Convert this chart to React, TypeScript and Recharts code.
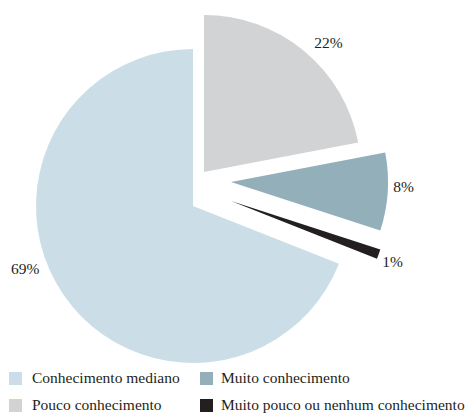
import React from "react";
import { PieChart, Pie, Cell, Sector, Legend } from "recharts";

// data, in drawing order (clockwise from 12 o'clock)
const categories = [
  "Pouco conhecimento",
  "Muito conhecimento",
  "Muito pouco ou nenhum conhecimento",
  "Conhecimento mediano",
];
const shares = [22, 8, 1, 69];

// legend order (two columns)
const legendRows = [
  ["Conhecimento mediano", "Muito conhecimento"],
  ["Pouco conhecimento", "Muito pouco ou nenhum conhecimento"],
];

const colors: Record<string, string> = {
  "Pouco conhecimento": "#d2d3d5",
  "Muito conhecimento": "#93afba",
  "Muito pouco ou nenhum conhecimento": "#231f20",
  "Conhecimento mediano": "#cbdee7",
};

// explode offsets per slice (px)
const explode: Record<string, [number, number]> = {
  "Pouco conhecimento": [11, -34],
  "Muito conhecimento": [38, -24],
  "Muito pouco ou nenhum conhecimento": [38, -5],
  "Conhecimento mediano": [0, 0],
};
// small label nudges so text sits where the original put it
const labelNudge: Record<string, [number, number]> = {
  "Pouco conhecimento": [13, 5],
  "Muito conhecimento": [-2, -6],
  "Muito pouco ou nenhum conhecimento": [-3, 1],
  "Conhecimento mediano": [-23, -36],
};

const data = categories.map((name, i) => ({ name, value: shares[i] }));

const FONT = "'Liberation Serif', 'Times New Roman', serif";
const RADIAN = Math.PI / 180;

const ExplodedSector = (props: any) => {
  const name = props.name ?? props.payload?.name;
  const [dx, dy] = explode[name] || [0, 0];
  return (
    <Sector
      cx={props.cx + dx}
      cy={props.cy + dy}
      innerRadius={0}
      outerRadius={props.outerRadius}
      startAngle={props.startAngle}
      endAngle={props.endAngle}
      fill={colors[name]}
      stroke="none"
    />
  );
};

const renderLabel = (props: any) => {
  const { cx, cy, midAngle, name, value } = props;
  const [dx, dy] = explode[name] || [0, 0];
  const [nx, ny] = labelNudge[name] || [0, 0];
  const r = 175;
  const x = cx + dx + r * Math.cos(-midAngle * RADIAN) + nx;
  const y = cy + dy + r * Math.sin(-midAngle * RADIAN) + ny;
  return (
    <text
      x={x}
      y={y}
      textAnchor="middle"
      dominantBaseline="central"
      fill="#231f20"
      fontFamily={FONT}
      fontSize={15.5}
    >
      {`${value}%`}
    </text>
  );
};

const LegendBox = () => (
  <div style={{ fontFamily: FONT, fontSize: 15.5, color: "#231f20" }}>
    {legendRows.map((row, ri) =>
      row.map((name, ci) => (
        <div
          key={name}
          style={{
            display: "flex",
            alignItems: "center",
            position: "absolute",
            left: ci === 0 ? 9 : 200,
            top: ri * 27,
            height: 20,
          }}
        >
          <span
            style={{
              display: "inline-block",
              width: 13,
              height: 13,
              background: colors[name],
              marginRight: ci === 0 ? 10 : 8,
            }}
          />
          <span style={{ whiteSpace: "nowrap" }}>{name}</span>
        </div>
      ))
    )}
  </div>
);

export default function App() {
  return (
    <div style={{ width: 467, height: 415, background: "#fff" }}>
      <style>{`body{margin:0}`}</style>
      <PieChart width={467} height={415} margin={{ top: 0, right: 0, bottom: 0, left: 0 }}>
        <Pie
          data={data}
          dataKey="value"
          nameKey="name"
          cx={193}
          cy={206}
          outerRadius={157}
          startAngle={90}
          endAngle={-270}
          stroke="none"
          label={renderLabel}
          labelLine={false}
          shape={ExplodedSector}
          inactiveShape={ExplodedSector}
          activeShape={ExplodedSector}
          isAnimationActive={false}
        >
          {data.map((d) => (
            <Cell key={d.name} fill={colors[d.name]} />
          ))}
        </Pie>
        <Legend
          content={() => <LegendBox />}
          wrapperStyle={{ position: "absolute", left: 0, top: 368, width: 467, height: 47, overflow: "visible" }}
        />
      </PieChart>
    </div>
  );
}
